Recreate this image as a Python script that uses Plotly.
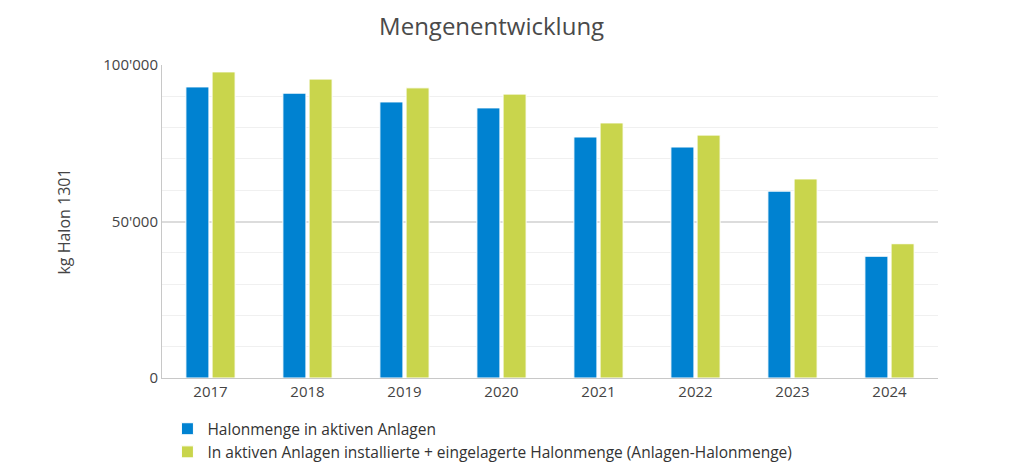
import plotly.graph_objects as go

# Daten
jahre = ["2017", "2018", "2019", "2020", "2021", "2022", "2023", "2024"]
halon_aktiv = [93000, 91000, 88200, 86300, 77000, 73800, 59700, 38900]
halon_total = [97800, 95500, 92700, 90700, 81500, 77600, 63600, 42900]

name_aktiv = "Halonmenge in aktiven Anlagen"
name_total = "In aktiven Anlagen installierte + eingelagerte Halonmenge (Anlagen-Halonmenge)"

font_family = "'Open Sans', sans-serif"

fig = go.Figure()
fig.add_trace(go.Bar(x=jahre, y=halon_aktiv, name=name_aktiv,
                     marker=dict(color="#0082D1", line=dict(color="white", width=1))))
fig.add_trace(go.Bar(x=jahre, y=halon_total, name=name_total,
                     marker=dict(color="#C9D54C", line=dict(color="white", width=1))))

# Seite hat 8px Rand -> Figur etwas kleiner
fig.update_layout(
    width=1016, height=464,
    paper_bgcolor="white", plot_bgcolor="white",
    font=dict(family=font_family, color="#444444", size=15),
    title=dict(text="Mengenentwicklung", x=0.476, xanchor="center", y=0.959, yanchor="middle",
               font=dict(size=24, color="#4a4a4a")),
    margin=dict(l=154, r=86, t=57, b=94),
    barmode="group", bargap=0.46, bargroupgap=0.12,
    legend=dict(orientation="v", x=0.007, xanchor="left",
                yref="container", y=0.129, yanchor="top",
                font=dict(size=15.5, color="#333333"), itemwidth=30,
                tracegroupgap=0),
    showlegend=True,
)
fig.update_xaxes(showline=True, linecolor="#C8C8C8", linewidth=1, ticks="",
                 automargin=False,
                 tickfont=dict(size=15, color="#444444"))
# Nebengitter alle 10'000, Hauptgitter alle 50'000
fig.update_yaxes(range=[0, 100000], tickvals=[0, 50000, 100000],
                 ticktext=["0", "50'000", "100'000"],
                 showline=True, linecolor="#C8C8C8", linewidth=1,
                 gridcolor="#DCDCDC", gridwidth=1.5,
                 minor=dict(dtick=10000, showgrid=True, gridcolor="#F0F0F0", gridwidth=1),
                 zeroline=False, automargin=False,
                 tickfont=dict(size=15, color="#444444"),
                 title=dict(text="kg Halon 1301", font=dict(size=16, color="#444444"), standoff=28))

fig.write_html("out.html")
